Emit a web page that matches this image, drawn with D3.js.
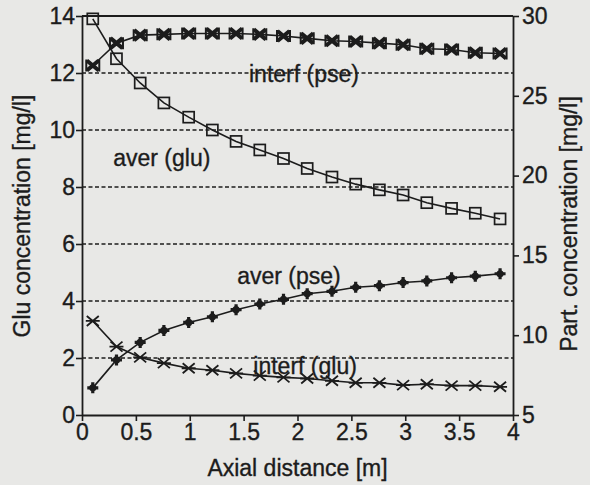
<!DOCTYPE html>
<html>
<head>
<meta charset="utf-8">
<script src="https://cdn.jsdelivr.net/npm/d3@7"></script>
<style>
  body { margin: 0; background: #e8e8e6; }
  svg { display: block; }
  text { font-family: "Liberation Sans", Arial, sans-serif; fill: #1c1c1c; stroke: #1c1c1c; stroke-width: 0.35px; }
</style>
</head>
<body>
<div class="graph"></div>
<script>
// Axial distance of the sampling points [m]
let distance = [0.1, 0.32, 0.54, 0.76, 0.99, 1.21, 1.43, 1.65, 1.87, 2.09, 2.32, 2.54, 2.76, 2.98, 3.2, 3.43, 3.65, 3.88];

// glucose series, left axis [mg/l]
let averGlu = [13.9, 12.5, 11.65, 10.95, 10.45, 10.0, 9.6, 9.3, 9.0, 8.65, 8.35, 8.1, 7.9, 7.72, 7.45, 7.25, 7.08, 6.88];
let interfGlu = [3.3, 2.4, 2.02, 1.82, 1.64, 1.57, 1.46, 1.38, 1.32, 1.28, 1.2, 1.13, 1.13, 1.05, 1.08, 1.03, 1.03, 0.99];

// particle series, right axis [mg/l]
let averPse = [6.7, 8.45, 9.55, 10.3, 10.8, 11.15, 11.6, 11.95, 12.25, 12.6, 12.75, 13.0, 13.1, 13.3, 13.4, 13.6, 13.7, 13.85];
let interfPse = [26.9, 28.3, 28.8, 28.85, 28.9, 28.9, 28.9, 28.85, 28.75, 28.6, 28.45, 28.4, 28.3, 28.2, 27.95, 27.9, 27.7, 27.65];

// tick labels
let xTicks = [0, 0.5, 1, 1.5, 2, 2.5, 3, 3.5, 4];
let leftTicks = [0, 2, 4, 6, 8, 10, 12, 14];
let rightTicks = [5, 10, 15, 20, 25, 30];
let gridValues = [2, 4, 6, 8, 10, 12];

// series names written inside the plot
let seriesNames = ["interf (pse)", "aver (glu)", "aver (pse)", "interf (glu)"];

let width = 590;
let height = 485;
let margin = { left: 82, right: 77, top: 16, bottom: 70 };
let ink = "#1c1c1c";

let svg = d3.select(".graph").append("svg")
  .attr("width", width)
  .attr("height", height);

let x = d3.scaleLinear().domain([0, 4]).range([margin.left, width - margin.right]);
let yL = d3.scaleLinear().domain([0, 14]).range([height - margin.bottom, margin.top]);
let yR = d3.scaleLinear().domain([5, 30]).range([height - margin.bottom, margin.top]);

// dashed grid lines
svg.append("g").selectAll("line")
  .data(gridValues)
  .join("line")
  .attr("x1", x(0)).attr("x2", x(4))
  .attr("y1", d => yL(d)).attr("y2", d => yL(d))
  .attr("stroke", ink)
  .attr("stroke-width", 1.6)
  .attr("stroke-dasharray", "4,2.5");

// top frame line
svg.append("line")
  .attr("x1", x(0)).attr("x2", x(4))
  .attr("y1", yL(14)).attr("y2", yL(14))
  .attr("stroke", ink).attr("stroke-width", 1.8);

function styleAxis(g) {
  g.select(".domain").attr("stroke", ink).attr("stroke-width", 1.8);
  g.selectAll(".tick line").attr("stroke", ink).attr("stroke-width", 1.6);
  g.selectAll(".tick text").attr("fill", ink).style("font-size", "23px")
    .style("font-family", "'Liberation Sans', Arial, sans-serif");
}

svg.append("g")
  .attr("transform", "translate(0," + yL(0) + ")")
  .call(d3.axisBottom(x).tickValues(xTicks).tickSize(6).tickSizeOuter(0).tickPadding(3).tickFormat(d3.format("")))
  .call(styleAxis);

svg.append("g")
  .attr("transform", "translate(" + x(0) + ",0)")
  .call(d3.axisLeft(yL).tickValues(leftTicks).tickSize(6).tickSizeOuter(0).tickPadding(1))
  .call(styleAxis);

svg.append("g")
  .attr("transform", "translate(" + x(4) + ",0)")
  .call(d3.axisRight(yR).tickValues(rightTicks).tickSize(6).tickSizeOuter(0).tickPadding(3))
  .call(styleAxis);

// axis titles
svg.append("text")
  .attr("x", x(2)).attr("y", 476)
  .attr("text-anchor", "middle")
  .style("font-size", "23px")
  .text("Axial distance [m]");

svg.append("text")
  .attr("transform", "translate(30,216) rotate(-90)")
  .attr("text-anchor", "middle")
  .style("font-size", "23px")
  .text("Glu concentration [mg/l]");

svg.append("text")
  .attr("transform", "translate(577,224) rotate(-90)")
  .attr("text-anchor", "middle")
  .style("font-size", "23px")
  .text("Part. concentration [mg/l]");

// series lines and markers
let series = [
  { values: averGlu, y: yL, marker: "square" },
  { values: interfGlu, y: yL, marker: "asterisk" },
  { values: averPse, y: yR, marker: "plus" },
  { values: interfPse, y: yR, marker: "cross" }
];

series.forEach(s => {
  let pts = distance.map((d, i) => [d, s.values[i]]);
  svg.append("path")
    .datum(pts)
    .attr("fill", "none")
    .attr("stroke", ink)
    .attr("stroke-width", 1.6)
    .attr("d", d3.line().x(d => x(d[0])).y(d => s.y(d[1])));

  let g = svg.append("g").selectAll("g")
    .data(pts)
    .join("g")
    .attr("transform", d => "translate(" + x(d[0]) + "," + s.y(d[1]) + ")");

  if (s.marker === "square") {
    g.append("rect")
      .attr("x", -5.5).attr("y", -5.5).attr("width", 11).attr("height", 11)
      .attr("fill", "none").attr("stroke", ink).attr("stroke-width", 1.7);
  } else if (s.marker === "asterisk") {
    g.append("path")
      .attr("d", "M-6,-5L6,5M-6,5L6,-5M-7,0L7,0")
      .attr("stroke", ink).attr("stroke-width", 1.8).attr("fill", "none");
  } else if (s.marker === "plus") {
    g.append("path")
      .attr("d", "M-5.5,0L5.5,0M0,-5.5L0,5.5")
      .attr("stroke", ink).attr("stroke-width", 3.2);
    g.append("circle").attr("r", 3.6).attr("fill", ink);
  } else {
    g.append("path")
      .attr("d", "M-6,-5L6,5M-6,5L6,-5")
      .attr("stroke", ink).attr("stroke-width", 4).attr("fill", "none");
    g.append("path")
      .attr("d", "M-6.5,-6L-6.5,6M6.5,-6L6.5,6")
      .attr("stroke", ink).attr("stroke-width", 2);
  }
});

// series labels: x in metres, y in left-axis units
let labelX = [1.55, 0.29, 1.44, 1.59];
let labelY = [11.7, 8.75, 4.6, 1.45];
svg.append("g").selectAll("text")
  .data(seriesNames)
  .join("text")
  .attr("x", (d, i) => x(labelX[i]))
  .attr("y", (d, i) => yL(labelY[i]))
  .style("font-size", "23px")
  .text(d => d);
</script>
</body>
</html>
